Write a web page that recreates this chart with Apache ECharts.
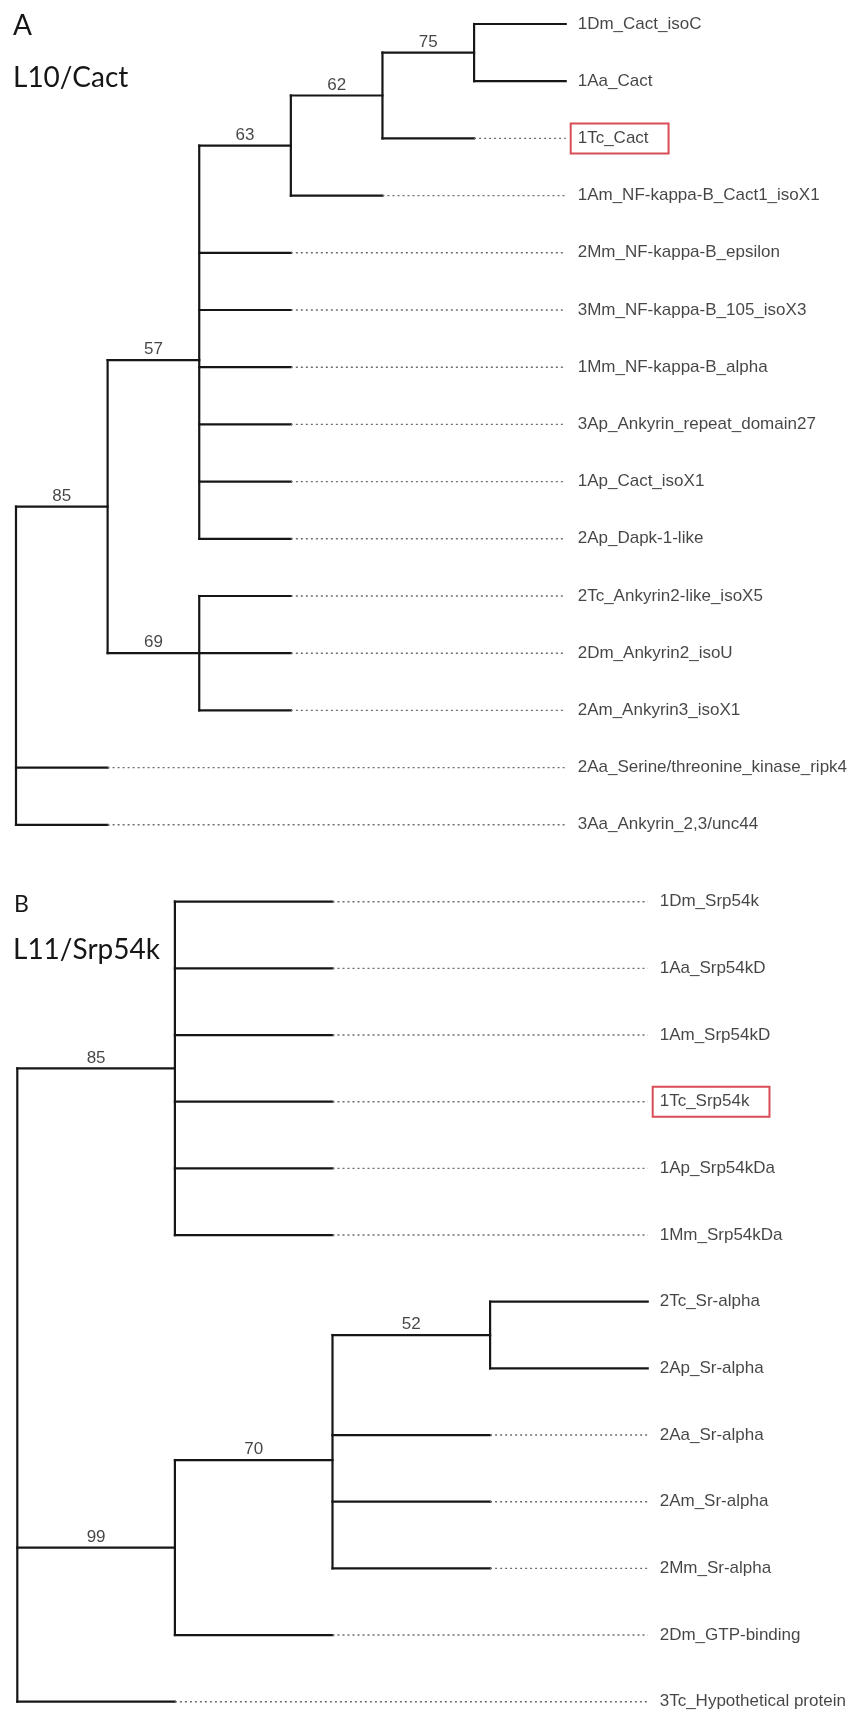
<!DOCTYPE html>
<html>
<head>
<meta charset="utf-8">
<script src="https://cdn.jsdelivr.net/npm/echarts@6/dist/echarts.min.js"></script>
<style>
html,body{margin:0;padding:0;background:#fff;}
#chart{width:850px;height:1713px;}
</style>
</head>
<body>
<div id="chart"></div>
<script>
// ---------- Panel A : L10/Cact ----------
const leavesA = ['1Dm_Cact_isoC', '1Aa_Cact', '1Tc_Cact', '1Am_NF-kappa-B_Cact1_isoX1',
  '2Mm_NF-kappa-B_epsilon', '3Mm_NF-kappa-B_105_isoX3', '1Mm_NF-kappa-B_alpha',
  '3Ap_Ankyrin_repeat_domain27', '1Ap_Cact_isoX1', '2Ap_Dapk-1-like',
  '2Tc_Ankyrin2-like_isoX5', '2Dm_Ankyrin2_isoU', '2Am_Ankyrin3_isoX1',
  '2Aa_Serine/threonine_kinase_ripk4', '3Aa_Ankyrin_2,3/unc44'];
const leafParentA = ['n75', 'n75', 'n62', 'n63', 'n57', 'n57', 'n57', 'n57', 'n57', 'n57',
  'n69', 'n69', 'n69', 'root', 'root'];
const nodesA = ['root', 'n85', 'n57', 'n63', 'n62', 'n75', 'n69'];
const nodeParentA = [null, 'root', 'n85', 'n57', 'n63', 'n62', 'n85'];
const supportA = [null, 85, 57, 63, 62, 75, 69];
const highlightA = ['1Tc_Cact'];

// ---------- Panel B : L11/Srp54k ----------
const leavesB = ['1Dm_Srp54k', '1Aa_Srp54kD', '1Am_Srp54kD', '1Tc_Srp54k', '1Ap_Srp54kDa',
  '1Mm_Srp54kDa', '2Tc_Sr-alpha', '2Ap_Sr-alpha', '2Aa_Sr-alpha', '2Am_Sr-alpha',
  '2Mm_Sr-alpha', '2Dm_GTP-binding', '3Tc_Hypothetical protein'];
const leafParentB = ['n85', 'n85', 'n85', 'n85', 'n85', 'n85', 'n52', 'n52', 'n70', 'n70',
  'n70', 'n99', 'root'];
const nodesB = ['root', 'n85', 'n99', 'n70', 'n52'];
const nodeParentB = [null, 'root', 'root', 'n99', 'n70'];
const supportB = [null, 85, 99, 70, 52];
const highlightB = ['1Tc_Srp54k'];

const panelLetters = ['A', 'B'];
const panelTitles = ['L10/Cact', 'L11/Srp54k'];

// ---------- cladogram layout from topology ----------
function layoutTree(leaves, leafParent, nodes, nodeParent, support) {
  const depth = {};
  function d(id) {
    if (depth[id] !== undefined) return depth[id];
    const p = nodeParent[nodes.indexOf(id)];
    depth[id] = p === null ? 0 : d(p) + 1;
    return depth[id];
  }
  nodes.forEach(d);
  let maxDepth = 0;
  leafParent.forEach(p => { maxDepth = Math.max(maxDepth, depth[p] + 1); });
  const kids = {};
  nodes.forEach(n => kids[n] = []);
  leaves.forEach((l, i) => kids[leafParent[i]].push({ y: i }));
  const ypos = {};
  function ny(id) {
    if (ypos[id] !== undefined) return ypos[id];
    const ch = kids[id].map(c => c.y).concat(
      nodes.filter((n, j) => nodeParent[j] === id).map(ny));
    ypos[id] = ch.reduce((a, b) => a + b, 0) / ch.length;
    kids[id].all = ch;
    return ypos[id];
  }
  nodes.forEach(ny);
  const segs = [];
  nodes.forEach(n => {
    const ch = kids[n].all;
    segs.push([depth[n], Math.min(...ch), depth[n], Math.max(...ch), 0]);
  });
  nodes.forEach((n, j) => {
    const p = nodeParent[j];
    if (p !== null) segs.push([depth[p], ypos[n], depth[n], ypos[n], 0]);
  });
  leaves.forEach((l, i) => {
    const dp = depth[leafParent[i]];
    segs.push([dp, i, dp + 1, i, 0]);
    if (dp + 1 < maxDepth) segs.push([dp + 1, i, maxDepth, i, 1]);
  });
  const supp = [];
  nodes.forEach((n, j) => {
    if (support[j] !== null) {
      supp.push([(depth[nodeParent[j]] + depth[n]) / 2, ypos[n], support[j]]);
    }
  });
  return { segs, supp, maxDepth };
}

const treeA = layoutTree(leavesA, leafParentA, nodesA, nodeParentA, supportA);
const treeB = layoutTree(leavesB, leafParentB, nodesB, nodeParentB, supportB);

const LABEL_FONT = "'Liberation Sans', Arial, sans-serif";
const TITLE_FONT = "Lato, 'Open Sans', sans-serif";
const INK = '#161616';

function segSeries(idx, segs) {
  return {
    type: 'custom', xAxisIndex: idx, yAxisIndex: idx, silent: true,
    encode: { x: [0, 2], y: [1, 3] },
    data: segs,
    renderItem: function (params, api) {
      const p1 = api.coord([api.value(0), api.value(1)]);
      const p2 = api.coord([api.value(2), api.value(3)]);
      const dotted = api.value(4) === 1;
      return {
        type: 'line',
        shape: { x1: p1[0], y1: p1[1], x2: p2[0], y2: p2[1] },
        style: dotted
          ? { stroke: '#6e6e6e', lineWidth: 1.4, lineDash: [2, 3] }
          : { stroke: INK, lineWidth: 2.2, lineCap: 'square' }
      };
    }
  };
}

function leafSeries(idx, leaves, maxDepth, highlight) {
  return {
    type: 'scatter', xAxisIndex: idx, yAxisIndex: idx, silent: true,
    symbolSize: 0,
    data: leaves.map((name, i) => {
      const item = { value: [maxDepth, i], name: name };
      if (highlight.indexOf(name) >= 0) {
        item.label = {
          borderColor: '#d0202b', borderWidth: 2,
          padding: [7, 20, 6, 7], distance: 5
        };
      }
      return item;
    }),
    label: {
      show: true, position: 'right', distance: 12,
      formatter: p => p.name,
      fontFamily: LABEL_FONT, fontSize: 17, color: INK
    }
  };
}

function supportSeries(idx, supp) {
  return {
    type: 'scatter', xAxisIndex: idx, yAxisIndex: idx, silent: true,
    symbolSize: 0,
    data: supp.map(s => ({ value: [s[0], s[1]], name: String(s[2]) })),
    label: {
      show: true, position: 'top', distance: 2,
      formatter: p => p.name,
      fontFamily: LABEL_FONT, fontSize: 17, color: INK
    }
  };
}

function hiddenAxis(extra) {
  return Object.assign({
    type: 'value', show: false, splitLine: { show: false },
    axisLine: { show: false }, axisTick: { show: false }, axisLabel: { show: false }
  }, extra);
}

const chart = echarts.init(document.getElementById('chart'), null, { renderer: 'canvas' });
chart.setOption({
  animation: false,
  backgroundColor: '#ffffff',
  grid: [
    { left: 16, right: 284.3, top: 24, height: 800.8 },
    { left: 17.3, right: 202.3, top: 901.7, height: 800 }
  ],
  xAxis: [
    hiddenAxis({ gridIndex: 0, min: 0, max: treeA.maxDepth }),
    hiddenAxis({ gridIndex: 1, min: 0, max: treeB.maxDepth })
  ],
  yAxis: [
    hiddenAxis({ gridIndex: 0, min: 0, max: leavesA.length - 1, inverse: true }),
    hiddenAxis({ gridIndex: 1, min: 0, max: leavesB.length - 1, inverse: true })
  ],
  graphic: [
    { type: 'text', left: 13, top: 12, style: { text: panelLetters[0], fontSize: 28, fontFamily: TITLE_FONT, fill: INK } },
    { type: 'text', left: 13, top: 64, style: { text: panelTitles[0], fontSize: 28, fontFamily: TITLE_FONT, fill: INK } },
    { type: 'text', left: 14, top: 893, style: { text: panelLetters[1], fontSize: 23, fontFamily: TITLE_FONT, fill: INK } },
    { type: 'text', left: 13, top: 936, style: { text: panelTitles[1], fontSize: 28, fontFamily: TITLE_FONT, fill: INK } }
  ],
  series: [
    segSeries(0, treeA.segs),
    leafSeries(0, leavesA, treeA.maxDepth, highlightA),
    supportSeries(0, treeA.supp),
    segSeries(1, treeB.segs),
    leafSeries(1, leavesB, treeB.maxDepth, highlightB),
    supportSeries(1, treeB.supp)
  ]
});
</script>
</body>
</html>
